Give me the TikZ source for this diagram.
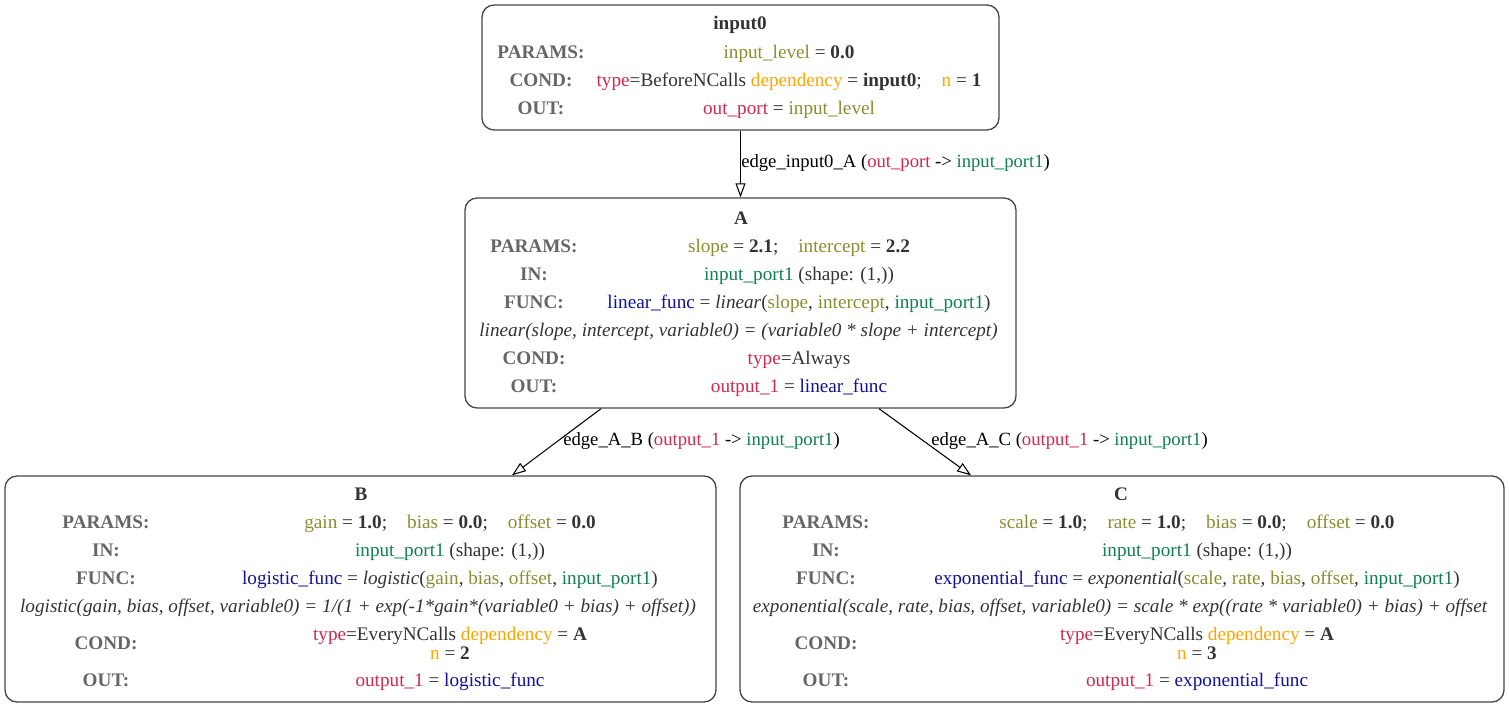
\documentclass[tikz,border=0pt]{standalone}
\usepackage{fontspec}
\setmainfont{Liberation Serif}
\usetikzlibrary{arrows.meta}

\definecolor{pnlred}{RGB}{208,40,80}
\definecolor{pnlolive}{RGB}{140,140,50}
\definecolor{pnlgreen}{RGB}{16,128,80}
\definecolor{pnlblue}{RGB}{17,17,153}
\definecolor{pnlorange}{RGB}{255,165,0}
\definecolor{hdgray}{RGB}{102,102,102}
\definecolor{txtgray}{RGB}{51,51,51}
\definecolor{boxgray}{RGB}{70,70,70}

\newcommand\fsz{\fontsize{14.4pt}{17pt}\selectfont}
\newcommand\esz{\fontsize{14pt}{17pt}\selectfont}
\newcommand\cRd[1]{\textcolor{pnlred}{#1}}
\newcommand\cOl[1]{\textcolor{pnlolive}{#1}}
\newcommand\cGr[1]{\textcolor{pnlgreen}{#1}}
\newcommand\cBl[1]{\textcolor{pnlblue}{#1}}
\newcommand\cOr[1]{\textcolor{pnlorange}{#1}}
\newcommand\sepgap{\hspace{15pt}}

\begin{document}
\begin{tikzpicture}[x=0.75pt,y=-0.75pt,
  box/.style={draw=boxgray, line width=1pt, rounded corners=9pt, inner sep=0pt},
  edge/.style={draw=black, line width=0.8pt, -{Triangle[open, length=10.5pt, width=7.5pt]}},
  txt/.style={anchor=base, inner sep=0pt, text=txtgray, font=\fsz},
  ttl/.style={txt, font=\fsz\bfseries},
  hd/.style={txt, text=hdgray, font=\fsz\bfseries},
  val/.style={txt},
  form/.style={txt, font=\fsz\itshape},
  elbl/.style={anchor=base west, inner sep=0pt, text=black, font=\esz}]
\useasboundingbox (0,0) rectangle (1509,708);

% mechanism boxes
\node[box, minimum width=387.75pt, minimum height=93.75pt] (in0) at (740.5,67.5) {};
\node[box, minimum width=413.25pt, minimum height=157.5pt] (A) at (740.5,303) {};
\node[box, minimum width=533.25pt, minimum height=169.5pt] (B) at (360.5,589) {};
\node[box, minimum width=573pt, minimum height=169.5pt] (C) at (1122,589) {};

% projections
\draw[edge] (in0.south) -- (A.north);
\draw[edge] (A.south -| 601,0) -- (B.north -| 512,0);
\draw[edge] (A.south -| 879,0) -- (C.north -| 971,0);

\node[elbl] (lin0A) at (741,167) {edge\_input0\_A (\cRd{out\_port} -> \cGr{input\_port1})};
\node[elbl] (lAB) at (563,445) {edge\_A\_B (\cRd{output\_1} -> \cGr{input\_port1})};
\node[elbl] (lAC) at (931,445) {edge\_A\_C (\cRd{output\_1} -> \cGr{input\_port1})};

% input0
\node[ttl] (in0t) at (740,29) {input0};
\node[hd] (in0p) at (541,58) {PARAMS:};
\node[val] (in0pv) at (789,58) {\cOl{input\_level} = \textbf{0.0}};
\node[hd] (in0c) at (541,86) {COND:};
\node[val] (in0cv) at (789,86) {\cRd{type}=BeforeNCalls \cOr{dependency} = \textbf{input0};\sepgap\cOr{n} = \textbf{1}};
\node[hd] (in0o) at (541,114) {OUT:};
\node[val] (in0ov) at (789,114) {\cRd{out\_port} = \cOl{input\_level}};

% A
\node[ttl] (At) at (741,224) {A};
\node[hd] (Ap) at (534,252) {PARAMS:};
\node[val] (Apv) at (799,252) {\cOl{slope} = \textbf{2.1};\sepgap\cOl{intercept} = \textbf{2.2}};
\node[hd] (Ai) at (534,280) {IN:};
\node[val] (Aiv) at (799,280) {\cGr{input\_port1} (shape: (1,))};
\node[hd] (Af) at (534,308) {FUNC:};
\node[val] (Afv) at (799,308) {\cBl{linear\_func} = \textit{linear}(\cOl{slope}, \cOl{intercept}, \cGr{input\_port1})};
\node[form] (Aform) at (738.5,336) {linear(slope, intercept, variable0) = (variable0 * slope + intercept)};
\node[hd] (Ac) at (534,364) {COND:};
\node[val] (Acv) at (799,364) {\cRd{type}=Always};
\node[hd] (Ao) at (534,392) {OUT:};
\node[val] (Aov) at (799,392) {\cRd{output\_1} = \cBl{linear\_func}};

% B
\node[ttl] (Bt) at (361,500) {B};
\node[hd] (Bp) at (106,528) {PARAMS:};
\node[val] (Bpv) at (450,528) {\cOl{gain} = \textbf{1.0};\sepgap\cOl{bias} = \textbf{0.0};\sepgap\cOl{offset} = \textbf{0.0}};
\node[hd] (Bi) at (106,556) {IN:};
\node[val] (Biv) at (450,556) {\cGr{input\_port1} (shape: (1,))};
\node[hd] (Bf) at (106,584) {FUNC:};
\node[val] (Bfv) at (450,584) {\cBl{logistic\_func} = \textit{logistic}(\cOl{gain}, \cOl{bias}, \cOl{offset}, \cGr{input\_port1})};
\node[form] (Bform) at (358,612) {logistic(gain, bias, offset, variable0) = 1/(1 + exp(-1*gain*(variable0 + bias) + offset))};
\node[hd] (Bc) at (106,649) {COND:};
\node[val] (Bcv) at (450,640) {\cRd{type}=EveryNCalls \cOr{dependency} = \textbf{A}};
\node[val] (Bcv2) at (450,659) {\cOr{n} = \textbf{2}};
\node[hd] (Bo) at (106,686) {OUT:};
\node[val] (Bov) at (450,686) {\cRd{output\_1} = \cBl{logistic\_func}};

% C
\node[ttl] (Ct) at (1121,500) {C};
\node[hd] (Cp) at (826,528) {PARAMS:};
\node[val] (Cpv) at (1197,528) {\cOl{scale} = \textbf{1.0};\sepgap\cOl{rate} = \textbf{1.0};\sepgap\cOl{bias} = \textbf{0.0};\sepgap\cOl{offset} = \textbf{0.0}};
\node[hd] (Ci) at (826,556) {IN:};
\node[val] (Civ) at (1197,556) {\cGr{input\_port1} (shape: (1,))};
\node[hd] (Cf) at (826,584) {FUNC:};
\node[val] (Cfv) at (1197,584) {\cBl{exponential\_func} = \textit{exponential}(\cOl{scale}, \cOl{rate}, \cOl{bias}, \cOl{offset}, \cGr{input\_port1})};
\node[form] (Cform) at (1120,612) {exponential(scale, rate, bias, offset, variable0) = scale * exp((rate * variable0) + bias) + offset};
\node[hd] (Cc) at (826,649) {COND:};
\node[val] (Ccv) at (1197,640) {\cRd{type}=EveryNCalls \cOr{dependency} = \textbf{A}};
\node[val] (Ccv2) at (1197,659) {\cOr{n} = \textbf{3}};
\node[hd] (Co) at (826,686) {OUT:};
\node[val] (Cov) at (1197,686) {\cRd{output\_1} = \cBl{exponential\_func}};
\end{tikzpicture}
\end{document}
